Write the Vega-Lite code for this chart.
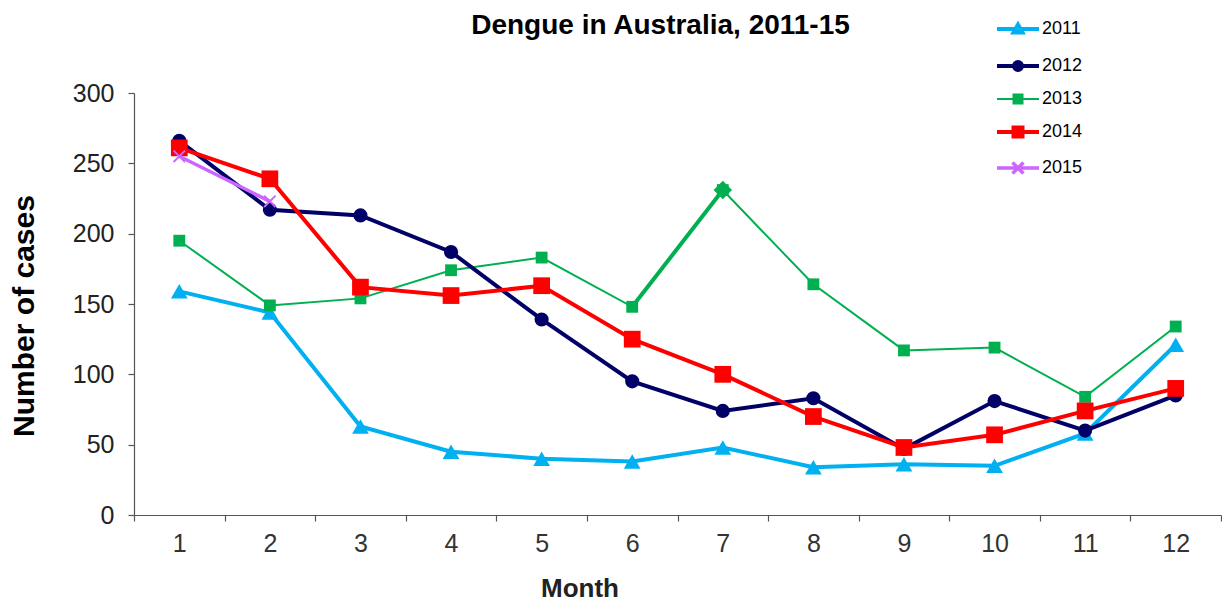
{
  "$schema": "https://vega.github.io/schema/vega-lite/v6.json",
  "autosize": {"type": "none"},
  "padding": {"left": 134, "top": 93, "right": 1, "bottom": 90},
  "width": 1087,
  "height": 422,
  "background": "white",
  "config": {
    "font": "Liberation Sans",
    "view": {"stroke": null},
    "axis": {"grid": false, "domainColor": "#555555", "tickColor": "#555555", "tickSize": 6, "domainWidth": 1.2, "tickWidth": 1.2}
  },
  "title": {
    "text": "Dengue in Australia, 2011-15",
    "fontSize": 28,
    "fontWeight": "bold",
    "font": "Liberation Sans",
    "color": "#000000",
    "anchor": "middle",
    "dx": -17,
    "dy": 42,
    "baseline": "alphabetic",
    "offset": 0
  },
  "data": {
    "values": [
      {"year": "2011", "month": 1, "cases": 159},
      {"year": "2011", "month": 2, "cases": 144},
      {"year": "2011", "month": 3, "cases": 63},
      {"year": "2011", "month": 4, "cases": 45},
      {"year": "2011", "month": 5, "cases": 40},
      {"year": "2011", "month": 6, "cases": 38},
      {"year": "2011", "month": 7, "cases": 48},
      {"year": "2011", "month": 8, "cases": 34},
      {"year": "2011", "month": 9, "cases": 36},
      {"year": "2011", "month": 10, "cases": 35},
      {"year": "2011", "month": 11, "cases": 58},
      {"year": "2011", "month": 12, "cases": 121},
      {"year": "2012", "month": 1, "cases": 266},
      {"year": "2012", "month": 2, "cases": 217},
      {"year": "2012", "month": 3, "cases": 213},
      {"year": "2012", "month": 4, "cases": 187},
      {"year": "2012", "month": 5, "cases": 139},
      {"year": "2012", "month": 6, "cases": 95},
      {"year": "2012", "month": 7, "cases": 74},
      {"year": "2012", "month": 8, "cases": 83},
      {"year": "2012", "month": 9, "cases": 47},
      {"year": "2012", "month": 10, "cases": 81},
      {"year": "2012", "month": 11, "cases": 60},
      {"year": "2012", "month": 12, "cases": 85},
      {"year": "2013", "month": 1, "cases": 195},
      {"year": "2013", "month": 2, "cases": 149},
      {"year": "2013", "month": 3, "cases": 154},
      {"year": "2013", "month": 4, "cases": 174},
      {"year": "2013", "month": 5, "cases": 183},
      {"year": "2013", "month": 6, "cases": 148},
      {"year": "2013", "month": 7, "cases": 231},
      {"year": "2013", "month": 8, "cases": 164},
      {"year": "2013", "month": 9, "cases": 117},
      {"year": "2013", "month": 10, "cases": 119},
      {"year": "2013", "month": 11, "cases": 84},
      {"year": "2013", "month": 12, "cases": 134},
      {"year": "2014", "month": 1, "cases": 261},
      {"year": "2014", "month": 2, "cases": 239},
      {"year": "2014", "month": 3, "cases": 162},
      {"year": "2014", "month": 4, "cases": 156},
      {"year": "2014", "month": 5, "cases": 163},
      {"year": "2014", "month": 6, "cases": 125},
      {"year": "2014", "month": 7, "cases": 100},
      {"year": "2014", "month": 8, "cases": 70},
      {"year": "2014", "month": 9, "cases": 48},
      {"year": "2014", "month": 10, "cases": 57},
      {"year": "2014", "month": 11, "cases": 74},
      {"year": "2014", "month": 12, "cases": 90},
      {"year": "2015", "month": 1, "cases": 255},
      {"year": "2015", "month": 2, "cases": 223}
    ]
  },
  "encoding": {
    "x": {
      "field": "month",
      "type": "ordinal",
      "bandPosition": 0.5,
      "scale": {"type": "band", "paddingInner": 0, "paddingOuter": 0},
      "axis": {
        "title": "Month",
        "labelAngle": 0,
        "labelFontSize": 25,
        "labelColor": "#333333",
        "labelPadding": 10,
        "tickBand": "extent",
        "titleFontSize": 26,
        "titleFontWeight": "bold",
        "titleColor": "#222222",
        "titleX": 445.5,
        "titleY": 81,
        "titleAlign": "center",
        "titleBaseline": "alphabetic"
      }
    },
    "y": {
      "field": "cases",
      "type": "quantitative",
      "scale": {"domain": [0, 300], "nice": false},
      "axis": {
        "title": "Number of cases",
        "values": [0, 50, 100, 150, 200, 250, 300],
        "labelFontSize": 25,
        "labelColor": "#222222",
        "labelPadding": 14,
        "titleFontSize": 30,
        "titleFontWeight": "bold",
        "titleColor": "#000000",
        "titleAngle": 270,
        "titleX": -101,
        "titleY": 222.5,
        "titleAlign": "center",
        "titleBaseline": "alphabetic"
      }
    },
    "color": {
      "field": "year",
      "type": "nominal",
      "scale": {"domain": ["2011", "2012", "2013", "2014", "2015"], "range": ["#00B0F0", "#000066", "#00B050", "#FF0000", "#CC66FF"]},
      "legend": {
        "title": null,
        "orient": "none",
        "legendX": 875,
        "legendY": -73,
        "padding": 0,
        "symbolSize": 400,
        "labelFontSize": 18,
        "labelColor": "#000000",
        "labelOffset": 15,
        "rowPadding": 3,
        "symbolOpacity": 1,
        "encode": {
          "symbols": {
            "update": {
              "stroke": {"scale": "color", "field": "value"},
              "fill": {"scale": "color", "field": "value"},
              "shape": {"scale": "shape", "field": "value"},
              "strokeWidth": {"signal": "datum.value === '2013' ? 2 : (datum.value === '2015' ? 3.5 : 4)"},
              "opacity": {"value": 1},
              "size": {"value": 400}
            }
          }
        }
      }
    }
  },
  "layer": [
    {
      "transform": [{"filter": "datum.year == '2011'"}],
      "mark": {"type": "line", "strokeWidth": 4, "point": {"filled": true, "shape": "triangle-up", "size": 280}}
    },
    {
      "transform": [{"filter": "datum.year == '2013'"}],
      "mark": {"type": "line", "strokeWidth": 2, "point": {"filled": true, "shape": "square", "size": 140}}
    },
    {
      "transform": [{"filter": "datum.year == '2013' && datum.month >= 6 && datum.month <= 7"}],
      "mark": {"type": "line", "strokeWidth": 4}
    },
    {
      "transform": [{"filter": "datum.year == '2013' && datum.month == 7"}],
      "mark": {"type": "point", "filled": true, "opacity": 1, "shape": "diamond", "size": 340}
    },
    {
      "transform": [{"filter": "datum.year == '2012'"}],
      "mark": {"type": "line", "strokeWidth": 4, "point": {"filled": true, "shape": "circle", "size": 200}}
    },
    {
      "transform": [{"filter": "datum.year == '2014'"}],
      "mark": {"type": "line", "strokeWidth": 4, "point": {"filled": true, "shape": "square", "size": 280}}
    },
    {
      "transform": [{"filter": "datum.year == '2015'"}],
      "mark": {"type": "line", "strokeWidth": 3.5, "point": {"filled": false, "shape": "M-1,-1L1,1M-1,1L1,-1", "size": 130, "strokeWidth": 2, "opacity": 1}}
    },
    {
      "mark": {"type": "point", "filled": true, "opacity": 0},
      "encoding": {
        "shape": {
          "field": "year",
          "type": "nominal",
          "scale": {
            "domain": ["2011", "2012", "2013", "2014", "2015"],
            "range": [
              "M0,-0.9M0,0.9M-2.1,0H2.1M-0.45,0.35L0,-0.45L0.45,0.35Z",
              "M0,-0.9M0,0.9M-2.1,0H2.1M0.4,0A0.4,0.4,0,1,1,-0.4,0A0.4,0.4,0,1,1,0.4,0Z",
              "M0,-0.9M0,0.9M-2.1,0H2.1M-0.45,-0.45H0.45V0.45H-0.45Z",
              "M0,-0.9M0,0.9M-2.1,0H2.1M-0.45,-0.45H0.45V0.45H-0.45Z",
              "M0,-0.9M0,0.9M-2.1,0H2.1M-0.55,-0.55L0.55,0.55M-0.55,0.55L0.55,-0.55"
            ]
          },
          "legend": {
            "title": null,
            "orient": "none",
            "legendX": 875,
            "legendY": -73,
            "padding": 0,
            "symbolSize": 400,
            "labelFontSize": 18,
            "labelColor": "#000000",
            "labelOffset": 15,
            "rowPadding": 3,
            "symbolOpacity": 1
          }
        }
      }
    }
  ]
}
